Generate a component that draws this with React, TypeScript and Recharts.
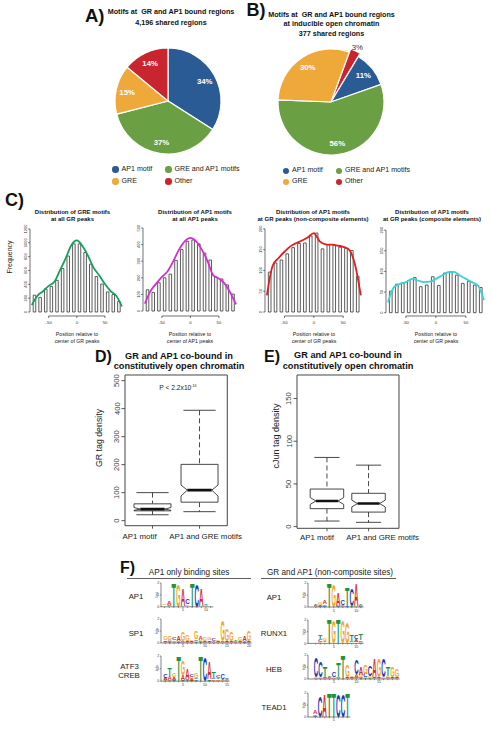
import React from 'react'
import {
  PieChart, Pie, Cell, ComposedChart, Bar, Line, XAxis, YAxis, ReferenceLine, ReferenceArea,
} from 'recharts'

const FONT = '"Liberation Sans", Arial, Helvetica, sans-serif'
const RAD = Math.PI / 180

// ---- A) / B) motif composition pies
const MOTIF_CLASSES = ['AP1 motif', 'GRE and AP1 motifs', 'GRE', 'Other']
const MOTIF_COLORS = ['#2B5B95', '#6AA043', '#EFA83A', '#C8252F']
const SHARED_PCT = [34, 37, 15, 14]
const INDUCIBLE_PCT = [11, 56, 30, 3]

// ---- C) histograms: 10bp bins from -80 to 80, density read at the bin edges
const BIN_CENTERS = [-75, -65, -55, -45, -35, -25, -15, -5, 5, 15, 25, 35, 45, 55, 65, 75]
const BIN_EDGES = [-80, -70, -60, -50, -40, -30, -20, -10, 0, 10, 20, 30, 40, 50, 60, 70, 80]

const GRE_AT_GR = [243, 211, 333, 369, 458, 629, 809, 985, 985, 860, 692, 512, 404, 290, 252, 153]
const GRE_AT_GR_DENS = [100, 234, 300, 378, 436, 602, 773, 962, 1034, 953, 809, 638, 526, 404, 301, 234, 80]
const AP1_AT_AP1 = [128, 112, 170, 200, 222, 305, 370, 420, 428, 404, 349, 307, 205, 193, 157, 102]
const AP1_AT_AP1_DENS = [45, 120, 165, 205, 240, 300, 370, 420, 440, 420, 370, 300, 215, 195, 165, 110, 40]
const AP1_NONCOMP = [96, 118, 125, 140, 155, 165, 166, 183, 190, 152, 162, 160, 156, 153, 148, 86]
const AP1_NONCOMP_DENS = [40, 112, 130, 145, 158, 166, 172, 180, 190, 170, 163, 162, 160, 157, 150, 115, 40]
const AP1_COMP = [52, 69, 72, 78, 85, 63, 67, 87, 66, 96, 99, 91, 71, 76, 67, 61]
const AP1_COMP_DENS = [25, 62, 70, 74, 82, 78, 74, 75, 82, 90, 98, 99, 90, 82, 74, 66, 30]

// ---- D) / E) boxplots: [min, q1, median, q3, max, notchLo, notchHi]
const BOX_CATS = ['AP1 motif', 'AP1 and GRE motifs']
const GR_TAGS = [
  [21, 35, 41, 60, 100, 37, 47],
  [32, 66, 109, 201, 394, 88, 127],
]
const CJUN_TAGS = [
  [6.5, 21, 30, 44, 81, 26, 34],
  [5, 17, 27, 39, 72, 23, 31],
]

// ---- F) sequence logos, bits per position as [A, C, G, T]
const LETTERS = ['A', 'C', 'G', 'T']
const LETTER_COLORS: Record<string, string> = { A: '#D8272D', C: '#2437B2', G: '#F4A623', T: '#22923F' }
const LETTER_EM: Record<string, number> = { A: 0.722, C: 0.722, G: 0.778, T: 0.611 }

const ONLY_AP1 = [
  [0.05, 0.05, 0.08, 0.05], [0.35, 0.06, 0.08, 0.05], [0, 0, 0, 2.0], [0, 0, 1.9, 0],
  [1.45, 0.05, 0.05, 0], [0.05, 0.4, 0.15, 0.05], [0, 0, 0, 2.0], [0, 1.85, 0, 0],
  [1.45, 0, 0.05, 0.05], [0.06, 0.05, 0.05, 0.06], [0.05, 0.05, 0.04, 0.05],
]
const ONLY_SP1 = [
  [0.05, 0.12, 0.3, 0.05], [0.1, 0.08, 0.3, 0.05], [0.05, 0.2, 0.15, 0.05], [0.45, 0.05, 0.1, 0.05],
  [0.05, 0.05, 0.8, 0.05], [0.05, 0.1, 0.5, 0.05], [0.05, 0.08, 0.08, 0.05], [0.1, 0.15, 0.6, 0.05],
  [0.3, 0.08, 0.15, 0.05], [0.05, 0.1, 0.3, 0.05], [0.05, 0.15, 0.25, 0.05], [0.05, 0.2, 0.1, 0.05],
  [0.05, 0.1, 0.12, 0.05], [0.05, 0.05, 1.8, 0.05], [0.05, 0.1, 1.0, 0.05], [0.05, 0.1, 0.75, 0.05],
  [0.05, 0.05, 0.08, 0.12], [0.05, 0.1, 0.3, 0.05], [0.4, 0.05, 0.1, 0.05], [0.05, 0.1, 0.9, 0.05],
]
const ONLY_ATF3 = [
  [0.15, 0.35, 0.08, 0.05], [0.3, 0.05, 0.05, 0.6], [0.2, 0.05, 0.35, 0.05], [0, 0, 0, 2.0],
  [0.4, 0.05, 1.2, 0.05], [0.8, 0.1, 0.05, 0.05], [0.15, 0.2, 0.15, 0.05], [0.1, 0.1, 0.45, 0.05],
  [0, 0, 0, 2.0], [0, 1.9, 0, 0], [1.4, 0.05, 0, 0.1], [0.1, 0.1, 0.05, 0.55],
  [0.1, 0.2, 0.05, 0.1], [0.05, 0.4, 0.05, 0.1], [0.05, 0.1, 0.05, 0.05],
]
const GR_AP1 = [
  [0.05, 0.05, 0.05, 0.05], [0.08, 0.05, 0.2, 0.05], [0.3, 0.05, 0.15, 0.05], [0, 0, 0, 2.0],
  [0, 0, 1.9, 0], [1.15, 0.05, 0.05, 0], [0.05, 0.4, 0.1, 0.05], [0, 0.05, 0, 1.55],
  [0, 1.4, 0, 0.05], [1.85, 0, 0.05, 0], [0.1, 0.05, 0.05, 0.1],
]
const GR_RUNX1 = [
  [0.05, 0.05, 0.05, 0.05], [0.05, 0.2, 0.1, 0.3], [0.05, 0.05, 0.25, 0.1], [0, 0, 0, 2.0],
  [0, 0, 1.9, 0], [0, 0, 0, 2.0], [0, 0, 1.9, 0], [0, 0.05, 1.8, 0],
  [0.05, 0.1, 0.05, 0.5], [0.25, 0.3, 0.05, 0.05], [0.1, 0.1, 0.05, 0.6],
]
const GR_HEB = [
  [0.05, 1.7, 0.05, 0.05], [0.05, 1.3, 0.05, 0.05], [0.05, 0.1, 0.05, 0.85], [0.05, 0.05, 0.05, 0.05],
  [0.05, 0.45, 0.05, 0.05], [0.05, 0.05, 0.1, 1.2], [0, 0, 0, 2.0], [0.05, 0.1, 1.0, 0.05],
  [0.05, 0.1, 0.1, 0.05], [0.3, 1.2, 0.05, 0.05], [0.7, 0.1, 0.2, 0.05], [0.1, 0.3, 0.8, 0.05],
  [0.1, 0.9, 0.1, 0.05], [1.5, 0.1, 0.05, 0.05], [0.05, 0.1, 1.5, 0.05], [0.05, 1.5, 0.05, 0.05],
  [0.05, 0.1, 0.1, 0.8], [0.05, 0.1, 0.9, 0.05], [0.05, 0.1, 0.6, 0.05],
]
const GR_TEAD1 = [
  [0.3, 0.05, 0.15, 0.05], [0, 1.8, 0, 0], [1.9, 0, 0, 0], [0, 0, 0, 2.0],
  [0, 0, 0, 2.0], [0, 1.9, 0, 0], [0, 1.9, 0, 0], [0, 0, 0, 2.0],
]

// ------------------------------------------------------------------ pies

function pieLabel(p: any, pct: number[], outsideIdx: number) {
  const i = typeof p.index === 'number' ? p.index : MOTIF_CLASSES.indexOf(p.name)
  const out = i === outsideIdx
  const r = out ? p.outerRadius + 8 : p.outerRadius * 0.79
  const a = -p.midAngle * RAD
  return (
    <text
      x={p.cx + r * Math.cos(a)}
      y={p.cy + r * Math.sin(a) + 2.8}
      textAnchor="middle"
      fontSize={7.8}
      fontWeight={out ? 'normal' : 'bold'}
      fill={out ? '#333' : '#fff'}
    >
      {pct[i]}%
    </text>
  )
}

function PieLegend({ left, top, rowH }: { left: number; top: number; rowH: number }) {
  return (
    <div
      style={{
        position: 'absolute', left, top, display: 'grid', gridTemplateColumns: '53px auto',
        fontSize: 7.1, color: '#222', lineHeight: 1,
      }}
    >
      {MOTIF_CLASSES.map((name, i) => (
        <div key={name} style={{ display: 'flex', alignItems: 'center', height: rowH, whiteSpace: 'nowrap' }}>
          <span
            style={{
              width: 6.5, height: 6.5, borderRadius: '50%', background: MOTIF_COLORS[i],
              marginRight: 3, display: 'inline-block', flex: 'none',
            }}
          />
          {name}
        </div>
      ))}
    </div>
  )
}

function SharedPie() {
  const data = MOTIF_CLASSES.map((name, i) => ({ name, value: SHARED_PCT[i] }))
  return (
    <div style={{ position: 'absolute', left: 0, top: 0 }}>
      <PieChart width={246} height={200} margin={{ top: 0, right: 0, bottom: 0, left: 0 }}>
        <Pie
          data={data} dataKey="value" nameKey="name" cx={168} cy={101} outerRadius={53}
          startAngle={90} endAngle={-270} stroke="#fff" strokeWidth={1.2}
          label={(p: any) => pieLabel(p, SHARED_PCT, -1)} labelLine={false} isAnimationActive={false}
        >
          {data.map((d, i) => <Cell key={d.name} fill={MOTIF_COLORS[i]} />)}
        </Pie>
      </PieChart>
      <PieLegend left={112} top={163.5} rowH={12} />
    </div>
  )
}

function InduciblePie() {
  const data = MOTIF_CLASSES.map((name, i) => ({ name, value: INDUCIBLE_PCT[i] }))
  const other = 3
  return (
    <div style={{ position: 'absolute', left: 246, top: 0 }}>
      <PieChart width={246} height={200} margin={{ top: 0, right: 0, bottom: 0, left: 0 }}>
        <Pie
          data={data} dataKey="value" nameKey="name" cx={85} cy={102} outerRadius={53}
          startAngle={59} endAngle={-301} strokeWidth={1.2}
          label={(p: any) => pieLabel(p, INDUCIBLE_PCT, other)} labelLine={false} isAnimationActive={false}
        >
          {data.map((d, i) => (
            <Cell key={d.name} fill={i === other ? 'none' : MOTIF_COLORS[i]} stroke={i === other ? 'none' : '#fff'} />
          ))}
        </Pie>
        {/* exploded "Other" slice */}
        <Pie
          data={data} dataKey="value" nameKey="name" cx={86.5} cy={98.8} outerRadius={53}
          startAngle={59} endAngle={-301} strokeWidth={1} legendType="none" isAnimationActive={false}
        >
          {data.map((d, i) => (
            <Cell key={d.name} fill={i === other ? MOTIF_COLORS[i] : 'none'} stroke={i === other ? '#fff' : 'none'} />
          ))}
        </Pie>
      </PieChart>
      <PieLegend left={36.5} top={165.5} rowH={11} />
    </div>
  )
}

// ------------------------------------------------------------------ histograms

const X_HALF = 83.2

function buildHist(counts: number[], dens: number[]) {
  const rows: { x: number; count?: number; dens?: number }[] = []
  BIN_EDGES.forEach((e, i) => {
    rows.push({ x: e, dens: dens[i] })
    if (i < BIN_CENTERS.length) rows.push({ x: BIN_CENTERS[i], count: counts[i] })
  })
  return rows
}

const RotTick = (p: any, fs: number, fill = '#333') => (
  <text
    x={p.x} y={p.y} transform={`rotate(-90 ${p.x} ${p.y})`}
    textAnchor="middle" fontSize={fs} fill={fill}
  >
    {p.payload.value}
  </text>
)

interface HistProps {
  counts: number[]
  dens: number[]
  color: string
  center: number
  ppu: number
  yMax: number
  yTicks: number[]
  yDomain: [number, number]
}

function Histogram({ counts, dens, color, center, ppu, yMax, yTicks, yDomain }: HistProps) {
  const plotW = 2 * X_HALF * ppu
  const axisW = 16
  const data = buildHist(counts, dens)
  return (
    <div style={{ position: 'absolute', left: center - plotW / 2 - axisW, top: 220 }}>
      <ComposedChart width={axisW + plotW + 2} height={110} data={data} margin={{ top: 6, right: 2, bottom: 0, left: 0 }}>
        <XAxis
          dataKey="x" type="number" domain={[-X_HALF, X_HALF]} allowDataOverflow ticks={[-50, 0, 50]}
          interval={0} axisLine={false} tickSize={2} tickMargin={3} height={14}
          tickLine={{ stroke: '#333', strokeWidth: 0.7 }} tick={{ fontSize: 4.2, fill: '#333' }}
        />
        <YAxis
          type="number" domain={yDomain} allowDataOverflow ticks={yTicks} interval={0}
          axisLine={false} width={axisW} tickSize={1.8} tickMargin={1}
          tickLine={{ stroke: '#333', strokeWidth: 0.7 }} tick={(p: any) => RotTick(p, 4.1)}
        />
        <Bar dataKey="count" barSize={10 * ppu} fill="#fff" stroke="#4a4a4a" strokeWidth={0.9} isAnimationActive={false} />
        <Line
          dataKey="dens" type="monotone" stroke={color} strokeWidth={1.8} dot={false}
          connectNulls isAnimationActive={false}
        />
        <ReferenceLine
          segment={[{ x: -50, y: yDomain[0] }, { x: 50, y: yDomain[0] }]}
          stroke="#333" strokeWidth={0.7} ifOverflow="visible"
        />
        <ReferenceLine
          segment={[{ x: -X_HALF, y: 0 }, { x: -X_HALF, y: yMax }]}
          stroke="#333" strokeWidth={0.7} ifOverflow="visible"
        />
      </ComposedChart>
    </div>
  )
}

// ------------------------------------------------------------------ boxplots

function boxShape(p: any, capFrac: number) {
  const s: number[] = p.payload.stats
  const [min, q1, med, q3, max, nLo, nHi] = s
  if (!(p.height > 0)) return <g />
  const k = p.height / (max - min)
  const py = (v: number) => p.y + (max - v) * k
  const cx = p.x + p.width / 2
  const x0 = p.x
  const x1 = p.x + p.width
  const nw = p.width * 0.33
  const cw = (p.width * capFrac) / 2
  const pts = [
    [x0, py(q3)], [x1, py(q3)], [x1, py(nHi)], [cx + nw, py(med)], [x1, py(nLo)],
    [x1, py(q1)], [x0, py(q1)], [x0, py(nLo)], [cx - nw, py(med)], [x0, py(nHi)],
  ].map((q) => q.join(',')).join(' ')
  const ln = { stroke: '#333', strokeWidth: 0.9 }
  return (
    <g>
      <line x1={cx} x2={cx} y1={py(max)} y2={py(q3)} {...ln} strokeDasharray="5 3" />
      <line x1={cx} x2={cx} y1={py(q1)} y2={py(min)} {...ln} strokeDasharray="5 3" />
      <line x1={cx - cw} x2={cx + cw} y1={py(max)} y2={py(max)} {...ln} />
      <line x1={cx - cw} x2={cx + cw} y1={py(min)} y2={py(min)} {...ln} />
      <polygon points={pts} fill="#fff" {...ln} />
      <line x1={cx - nw} x2={cx + nw} y1={py(med)} y2={py(med)} stroke="#111" strokeWidth={2.6} />
    </g>
  )
}

interface BoxProps {
  stats: number[][]
  plotLeft: number
  plotW: number
  plotTop: number
  plotH: number
  xDomain: [number, number]
  yDomain: [number, number]
  yTicks: number[]
  barW: number
  capFrac: number
  labelDx: number[]
  labelDy: number
}

function BoxPanel({ stats, plotLeft, plotW, plotTop, plotH, xDomain, yDomain, yTicks, barW, capFrac, labelDx, labelDy }: BoxProps) {
  const axisW = 22
  const padR = 40
  const data = stats.map((s, i) => ({ x: i + 1, base: s[0], range: s[4] - s[0], stats: s }))
  return (
    <div style={{ position: 'absolute', left: plotLeft - axisW, top: plotTop - 5 }}>
      <ComposedChart
        width={axisW + plotW + padR} height={5 + plotH + 22} data={data}
        margin={{ top: 5, right: padR, bottom: 0, left: 0 }}
      >
        <XAxis
          dataKey="x" type="number" domain={xDomain} allowDataOverflow ticks={[1, 2]} interval={0}
          axisLine={false} tickSize={3} tickMargin={2} height={22}
          tickLine={{ stroke: '#444', strokeWidth: 0.9 }}
          tick={(p: any) => (
            <text x={p.x + labelDx[p.payload.value - 1]} y={p.y + labelDy} textAnchor="middle" fontSize={7.9} fill="#222">
              {BOX_CATS[p.payload.value - 1]}
            </text>
          )}
        />
        <YAxis
          type="number" domain={yDomain} allowDataOverflow ticks={yTicks} interval={0}
          axisLine={false} width={axisW} tickSize={3.5} tickMargin={2}
          tickLine={{ stroke: '#444', strokeWidth: 0.9 }} tick={(p: any) => RotTick(p, 7.6, '#444')}
        />
        <ReferenceArea y1={yDomain[0]} y2={yDomain[1]} fill="none" fillOpacity={0} stroke="#444" strokeWidth={1} ifOverflow="visible" />
        <Bar dataKey="base" stackId="box" barSize={barW} fill="none" isAnimationActive={false} />
        <Bar dataKey="range" stackId="box" barSize={barW} isAnimationActive={false} shape={(p: any) => boxShape(p, capFrac)} />
      </ComposedChart>
    </div>
  )
}

// ------------------------------------------------------------------ sequence logos

function logoRows(cols: number[][]) {
  return cols.map((col, i) => {
    const order = [0, 1, 2, 3].sort((a, b) => col[a] - col[b])
    const row: Record<string, number | string> = { pos: i + 1 }
    order.forEach((li, k) => {
      row['h' + k] = col[li]
      row['c' + k] = LETTERS[li]
    })
    return row
  })
}

function letterShape(p: any, k: number) {
  const letter = p.payload?.['c' + k]
  if (!letter || !(p.height > 0.6) || !(p.width > 0)) return <g />
  const fs = 10
  const sx = p.width / (LETTER_EM[letter] * fs)
  const sy = p.height / (0.716 * fs)
  return (
    <text
      transform={`translate(${p.x + p.width / 2} ${p.y + p.height}) scale(${sx} ${sy})`}
      textAnchor="middle" fontSize={fs} fontWeight="bold" fill={LETTER_COLORS[letter]}
    >
      {letter}
    </text>
  )
}

interface LogoProps {
  cols: number[][]
  axisX: number
  pos1: number
  sp: number
  y0: number
  ppb: number
}

function Logo({ cols, axisX, pos1, sp, y0, ppb }: LogoProps) {
  const n = cols.length
  const axisW = 8
  const padT = 9
  const xMin = 1 - (pos1 - axisX) / sp
  const xMax = n + 0.6
  const plotW = (xMax - xMin) * sp
  const plotH = 2 * ppb
  const data = logoRows(cols)
  const ticks = cols.map((_, i) => i + 1)
  return (
    <div style={{ position: 'absolute', left: axisX - axisW, top: y0 - plotH - padT }}>
      <ComposedChart
        width={axisW + plotW + 2} height={padT + plotH + 7} data={data}
        margin={{ top: padT, right: 2, bottom: 0, left: 0 }}
      >
        <XAxis
          dataKey="pos" type="number" domain={[xMin, xMax]} allowDataOverflow ticks={ticks} interval={0}
          tickSize={1.2} tickMargin={0} height={7}
          axisLine={{ stroke: '#333', strokeWidth: 0.6 }} tickLine={{ stroke: '#333', strokeWidth: 0.5 }}
          tick={(p: any) =>
            p.payload.value % 5 === 0 ? (
              <text x={p.x} y={p.y + 3.3} fontSize={3.6} textAnchor="middle" fill="#333">{p.payload.value}</text>
            ) : <g />
          }
        />
        <YAxis
          type="number" domain={[0, 2]} allowDataOverflow ticks={[0, 1, 2]} interval={0} width={axisW}
          tickSize={1.2} tickMargin={0.6}
          axisLine={{ stroke: '#333', strokeWidth: 0.6 }} tickLine={{ stroke: '#333', strokeWidth: 0.5 }}
          tick={(p: any) => (
            <text x={p.x} y={p.y + 1.2} fontSize={3.6} textAnchor="end" fill="#333">{p.payload.value}</text>
          )}
        />
        {[0, 1, 2, 3].map((k) => (
          <Bar
            key={k} dataKey={'h' + k} stackId="logo" barSize={sp * 0.98}
            isAnimationActive={false} shape={(p: any) => letterShape(p, k)}
          />
        ))}
      </ComposedChart>
    </div>
  )
}

const LEFT_LOGOS = [
  { name: ['AP1'], cols: ONLY_AP1, pos1: 164.6, sp: 4.6, y0: 606.7, ppb: 11.9 },
  { name: ['SP1'], cols: ONLY_SP1, pos1: 165.4, sp: 4.4, y0: 643, ppb: 12 },
  { name: ['ATF3', 'CREB'], cols: ONLY_ATF3, pos1: 165.4, sp: 4.4, y0: 680.7, ppb: 12.6 },
]
const RIGHT_LOGOS = [
  { name: ['AP1'], cols: GR_AP1, pos1: 315.8, sp: 4.5, y0: 607, ppb: 12 },
  { name: ['RUNX1'], cols: GR_RUNX1, pos1: 315.8, sp: 4.5, y0: 643.3, ppb: 11.7 },
  { name: ['HEB'], cols: GR_HEB, pos1: 316, sp: 4.5, y0: 679, ppb: 12 },
  { name: ['TEAD1'], cols: GR_TEAD1, pos1: 315.4, sp: 4.6, y0: 717, ppb: 12 },
]

// ------------------------------------------------------------------ text overlay

function Txt({
  x, y, size, bold = false, anchor = 'middle', rotate = false, fill = '#111', children,
}: {
  x: number; y: number; size: number; bold?: boolean; anchor?: string; rotate?: boolean; fill?: string
  children: React.ReactNode
}) {
  return (
    <text
      x={x} y={y} fontSize={size} fontWeight={bold ? 'bold' : 'normal'} textAnchor={anchor as any} fill={fill}
      transform={rotate ? `rotate(-90 ${x} ${y})` : undefined} style={{ whiteSpace: 'pre' }}
    >
      {children}
    </text>
  )
}

const HIST_TITLES = [
  { cx: 72.5, l1: 'Distribution of GRE motifs', l2: 'at all GR peaks', xc: 77, xl: 'center of GR peaks' },
  { cx: 195, l1: 'Distribution of AP1 motifs', l2: 'at all AP1 peaks', xc: 190, xl: 'center of AP1 peaks' },
  { cx: 313, l1: 'Distribution of AP1 motifs', l2: 'at GR peaks (non-composite elements)', xc: 314, xl: 'center of GR peaks' },
  { cx: 432, l1: 'Distribution of AP1 motifs', l2: 'at GR peaks (composite elements)', xc: 436, xl: 'center of GR peaks' },
]

function Annotations() {
  return (
    <svg width={492} height={730} style={{ position: 'absolute', left: 0, top: 0, pointerEvents: 'none' }} fontFamily={FONT}>
      {/* panel letters */}
      <Txt x={85} y={21.7} size={18.5} bold anchor="start">A)</Txt>
      <Txt x={246.5} y={15.6} size={18} bold anchor="start">B)</Txt>
      <Txt x={5} y={206} size={18} bold anchor="start">C)</Txt>
      <Txt x={95} y={362} size={16} bold anchor="start">D)</Txt>
      <Txt x={264} y={362} size={16} bold anchor="start">E)</Txt>
      <Txt x={120} y={573.3} size={16} bold anchor="start">F)</Txt>

      {/* pie titles */}
      <Txt x={171} y={14} size={7.2} bold>Motifs at  GR and AP1 bound regions</Txt>
      <Txt x={171} y={25.3} size={7.2} bold>4,196 shared regions</Txt>
      <Txt x={331.5} y={16.6} size={7.2} bold>Motifs at  GR and AP1 bound regions</Txt>
      <Txt x={331.5} y={26.4} size={7.2} bold>at inducible open chromatin</Txt>
      <Txt x={331.5} y={35.6} size={7.2} bold>377 shared regions</Txt>

      {/* histogram titles and axis labels */}
      {HIST_TITLES.map((h) => (
        <g key={h.l2}>
          <Txt x={h.cx} y={214.3} size={6} bold>{h.l1}</Txt>
          <Txt x={h.cx} y={220.6} size={6} bold>{h.l2}</Txt>
          <Txt x={h.xc} y={335.8} size={5.2} fill="#222">Position relative to</Txt>
          <Txt x={h.xc} y={342.8} size={5.2} fill="#222">{h.xl}</Txt>
        </g>
      ))}
      <Txt x={12} y={257} size={7} rotate fill="#222">Frequency</Txt>

      {/* D */}
      <Txt x={179} y={359.3} size={9.2} bold>GR and AP1 co-bound in</Txt>
      <Txt x={179} y={368.6} size={9.2} bold>constitutively open chromatin</Txt>
      <text x={159.3} y={389.6} fontSize={6.7} fill="#222" textAnchor="start">
        P {'<'} 2.2x10<tspan fontSize={3.6} dy={-2.8}>-16</tspan>
      </text>
      <Txt x={102} y={438} size={8.8} rotate fill="#222">GR tag density</Txt>

      {/* E */}
      <Txt x={348} y={358.3} size={9.2} bold>GR and AP1 co-bound in</Txt>
      <Txt x={348} y={368.6} size={9.2} bold>constitutively open chromatin</Txt>
      <Txt x={278.5} y={436} size={9} rotate fill="#222">cJun tag density</Txt>

      {/* F headers */}
      <Txt x={189} y={574.6} size={8.2} fill="#222">AP1 only binding sites</Txt>
      <line x1={127} x2={251} y1={578.5} y2={578.5} stroke="#333" strokeWidth={0.8} />
      <Txt x={330} y={574.6} size={8.2} fill="#222">GR and AP1 (non-composite sites)</Txt>
      <line x1={261} x2={396} y1={578.5} y2={578.5} stroke="#333" strokeWidth={0.8} />

      {LEFT_LOGOS.map((l) => (
        <g key={'L' + l.name.join()}>
          {l.name.length === 1 ? (
            <Txt x={136} y={l.y0 - 7.5} size={7.8} fill="#222">{l.name[0]}</Txt>
          ) : (
            <>
              <Txt x={129.5} y={669.2} size={7.8} fill="#222">{l.name[0]}</Txt>
              <Txt x={129} y={678.4} size={7.8} fill="#222">{l.name[1]}</Txt>
            </>
          )}
          <Txt x={158} y={l.y0 - l.ppb} size={3.6} rotate fill="#333">bits</Txt>
        </g>
      ))}
      {RIGHT_LOGOS.map((l) => (
        <g key={'R' + l.name.join()}>
          <Txt x={274} y={l.y0 - 7.5} size={7.8} fill="#222">{l.name[0]}</Txt>
          <Txt x={305} y={l.y0 - l.ppb} size={3.6} rotate fill="#333">bits</Txt>
        </g>
      ))}
    </svg>
  )
}

// ------------------------------------------------------------------ page

export default function App() {
  return (
    <div
      style={{
        position: 'absolute', left: 0, top: 0, width: 492, height: 730, background: '#fff',
        overflow: 'hidden', fontFamily: FONT, color: '#111',
      }}
    >
      <SharedPie />
      <InduciblePie />

      <Histogram
        counts={GRE_AT_GR} dens={GRE_AT_GR_DENS} color="#15A05A" center={77} ppu={0.563}
        yMax={1200} yTicks={[0, 200, 400, 600, 800, 1000, 1200]} yDomain={[-58, 1243]}
      />
      <Histogram
        counts={AP1_AT_AP1} dens={AP1_AT_AP1_DENS} color="#D62DD0" center={190} ppu={0.57}
        yMax={500} yTicks={[0, 100, 200, 300, 400, 500]} yDomain={[-30, 512]}
      />
      <Histogram
        counts={AP1_NONCOMP} dens={AP1_NONCOMP_DENS} color="#E01E1E" center={314.3} ppu={0.587}
        yMax={200} yTicks={[0, 50, 100, 150, 200]} yDomain={[-9.6, 207]}
      />
      <Histogram
        counts={AP1_COMP} dens={AP1_COMP_DENS} color="#33D6D3" center={435.7} ppu={0.6}
        yMax={200} yTicks={[0, 50, 100, 150, 200]} yDomain={[-8, 210]}
      />

      <BoxPanel
        stats={GR_TAGS} plotLeft={125} plotW={102.3} plotTop={375} plotH={150.7}
        xDomain={[0.415, 2.59]} yDomain={[-18, 520]} yTicks={[0, 100, 200, 300, 400, 500]}
        barW={37} capFrac={0.87} labelDx={[-13, 6]} labelDy={8.5}
      />
      <BoxPanel
        stats={CJUN_TAGS} plotLeft={296.7} plotW={102} plotTop={375} plotH={153.3}
        xDomain={[0.279, 2.731]} yDomain={[-2, 177.6]} yTicks={[0, 50, 100, 150]}
        barW={33.5} capFrac={0.75} labelDx={[-10, 14]} labelDy={6.5}
      />

      {LEFT_LOGOS.map((l) => (
        <Logo key={'L' + l.name.join()} cols={l.cols} axisX={161} pos1={l.pos1} sp={l.sp} y0={l.y0} ppb={l.ppb} />
      ))}
      {RIGHT_LOGOS.map((l) => (
        <Logo key={'R' + l.name.join()} cols={l.cols} axisX={308} pos1={l.pos1} sp={l.sp} y0={l.y0} ppb={l.ppb} />
      ))}

      <Annotations />
    </div>
  )
}
